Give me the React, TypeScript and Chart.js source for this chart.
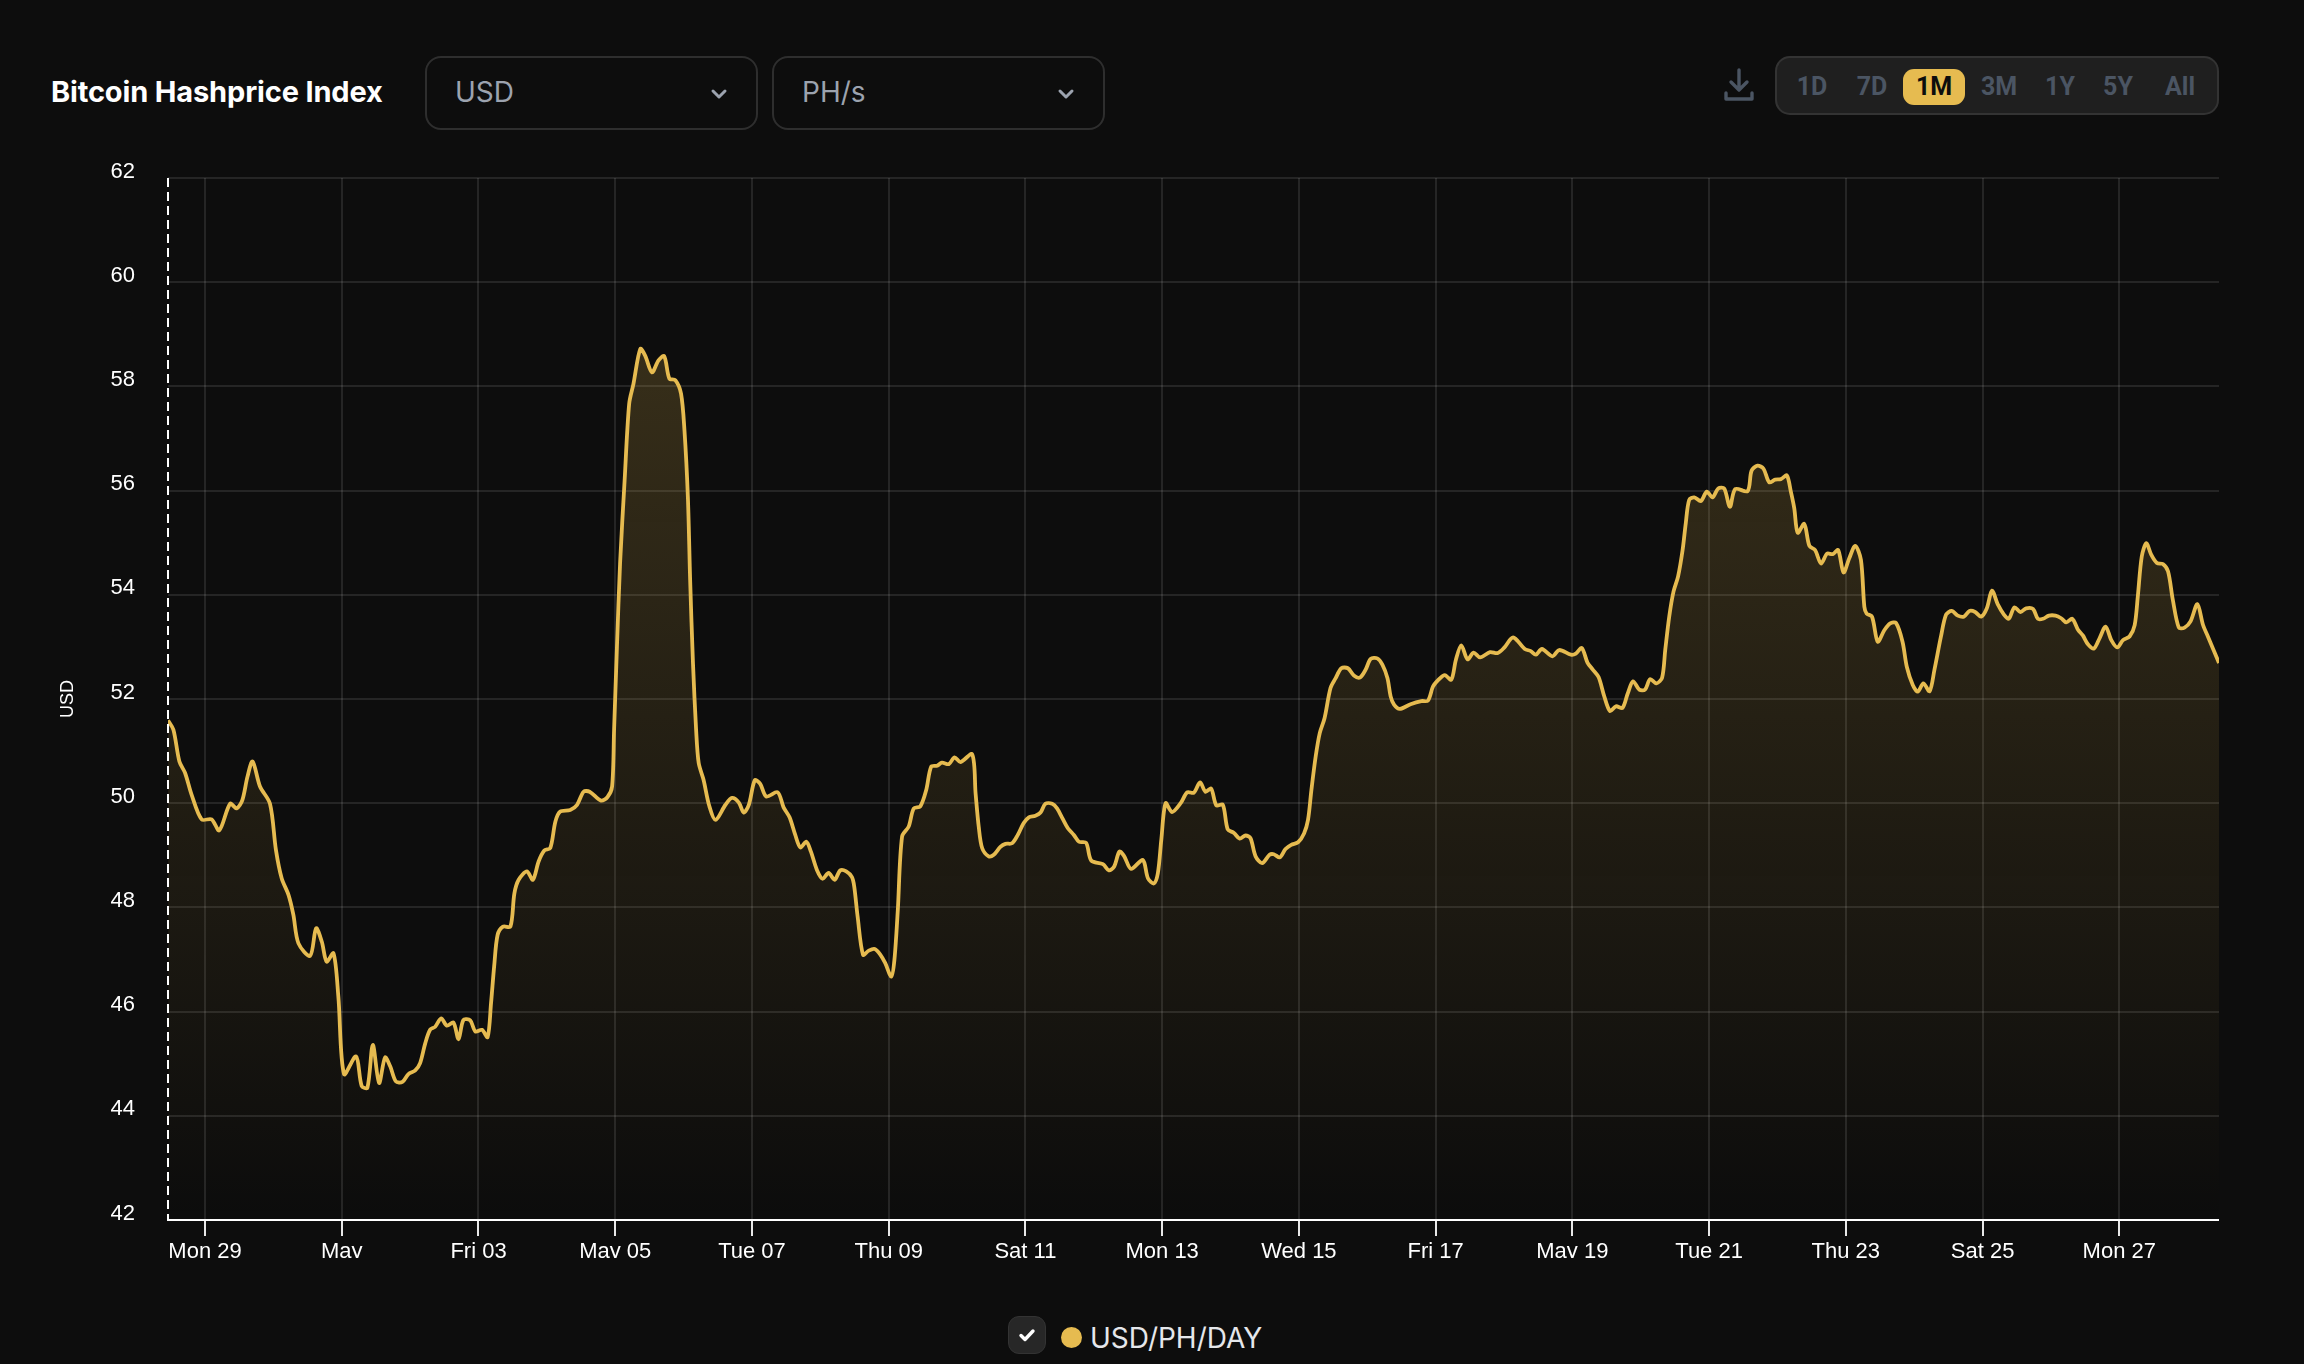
import { Chart, registerables, type ChartConfiguration } from "chart.js";
import { useEffect, useRef } from "react";

Chart.register(...registerables);

const GOLD = "#E6BB50";
const BG = "#0D0D0D";

const seriesName = "USD/PH/DAY";
const ranges = ["1D", "7D", "1M", "3M", "1Y", "5Y", "All"];
const activeRange = "1M";

// hours since the left edge of the window
const tickHours = [13, 61, 109, 157, 205, 253, 301, 349, 397, 445, 493, 541, 589, 637, 685];
const tickLabels = ["Mon 29", "May", "Fri 03", "May 05", "Tue 07", "Thu 09", "Sat 11", "Mon 13", "Wed 15", "Fri 17", "May 19", "Tue 21", "Thu 23", "Sat 25", "Mon 27"];

const hours = [
  0, 1.9, 4, 6, 8.3, 11.8, 15.3, 18, 21.8, 24.1,
  26.1, 27.9, 29.7, 32.3, 35.8, 37.9, 39.9, 42.3, 44, 45.8,
  49.9, 52, 54, 55.7, 58.1, 59.8, 61.8, 66, 68, 70,
  71.9, 74.1, 76.2, 78, 80, 82.3, 84.4, 86.8, 88.5, 90.3,
  92, 93.8, 95.9, 97.9, 100.2, 102, 103.7, 106.1, 107.9, 110.2,
  112.2, 113.4, 114.5, 115.7, 117.6, 120.2, 121.6, 123.1, 126, 128.1,
  130.1, 132.1, 134.2, 136, 137.7, 141.2, 143.6, 145.9, 148, 152,
  154.3, 155.9, 156.6, 157.6, 158.7, 160.3, 161.9, 163.4, 165.8, 167.5,
  169.9, 172.2, 174.2, 176, 178.1, 180.1, 181.3, 182.5, 183.3, 184.3,
  185.4, 186.3, 188, 190, 192.2, 195.7, 198, 200.4, 202.1, 203.9,
  206, 207.9, 210, 214, 216.1, 218.2, 220.2, 222, 224.1, 225.7,
  227.8, 229.8, 231.9, 234, 236, 238.1, 240.1, 240.9, 242.1, 244,
  246, 248.1, 250.1, 251.8, 253.9, 255, 256.2, 257.7, 260, 261.8,
  264.1, 266.2, 267.9, 270, 271.7, 274.1, 276.1, 278.2, 282.3, 283.5,
  284.6, 285.8, 288.1, 289.9, 292.2, 294, 296.3, 298.3, 300.4, 302.2,
  304.5, 306.3, 308, 310.4, 312.1, 313.9, 315.9, 318, 319.8, 322.3,
  324.1, 328.2, 330.3, 332.1, 334, 335.6, 338.1, 342.2, 344, 346.1,
  347.5, 348.7, 350.2, 352.5, 355.5, 357.8, 360.1, 362.3, 364.2, 366.2,
  368, 370.3, 372, 374.2, 376.2, 378.3, 380, 381.8, 384.1, 386.7,
  388.2, 390.3, 392.3, 394.3, 396.7, 398.8, 400.2, 401.4, 402.9, 404.3,
  406, 408.1, 409.9, 411.9, 414.2, 416.3, 418.4, 420.4, 422.2, 424.5,
  426.3, 428.1, 429.2, 430.4, 432.4, 436.2, 440, 442.3, 444.1, 446.2,
  448.2, 450.5, 452.1, 454, 456.2, 458.3, 460.6, 464.1, 466.7, 469,
  472.2, 476.3, 478.4, 480.2, 482.3, 486, 488.4, 492.5, 494.2, 496.3,
  498.3, 500.1, 502.2, 504.2, 506.2, 508.3, 510.6, 512.4, 514.3, 516.5,
  518.5, 520.3, 522.5, 524.5, 525.6, 527, 528.5, 530.1, 531.7, 532.8,
  534, 535.8, 538.1, 540.2, 542.2, 544.2, 546.3, 548.3, 550.2, 554.5,
  555.9, 558, 560.1, 562.1, 564.2, 566.2, 568.3, 569.7, 570.9, 572.1,
  574.4, 576.2, 578.2, 580.3, 582.4, 584.4, 586.3, 588.2, 590.2, 592.3,
  594.3, 595.5, 596.3, 598.2, 600.2, 602.5, 604.6, 606.6, 608.9, 610.4,
  612.5, 614.3, 616.2, 618.4, 620.1, 622.4, 624.2, 626.2, 628.3, 630.4,
  632.4, 634.4, 636.5, 638.5, 640.3, 642.4, 644.5, 646.2, 648.2, 650.3,
  652.3, 654.7, 656.4, 658.2, 660.3, 662.6, 664.6, 666.4, 668.5, 670.5,
  672.2, 674, 676.1, 678.1, 680.2, 682.2, 684.3, 686.3, 688.6, 690.4,
  691.5, 692.9, 694.5, 696.2, 698.2, 700.3, 702.1, 703.8, 705.9, 707.9,
  710, 712.4, 714.4, 716.1, 720,
];

const usdPerPhDay = [
  51.59, 51.41, 50.8, 50.58, 50.16, 49.69, 49.69, 49.48, 49.99, 49.9,
  50.06, 50.51, 50.8, 50.32, 49.99, 49.1, 48.56, 48.24, 47.86, 47.31,
  47.07, 47.6, 47.34, 46.96, 47.12, 46.29, 44.8, 45.14, 44.57, 44.54,
  45.36, 44.63, 45.12, 44.95, 44.66, 44.65, 44.8, 44.87, 45.01, 45.39,
  45.65, 45.71, 45.87, 45.73, 45.79, 45.47, 45.84, 45.83, 45.62, 45.65,
  45.51, 46.16, 46.87, 47.47, 47.63, 47.63, 48.27, 48.53, 48.69, 48.53,
  48.88, 49.09, 49.14, 49.65, 49.84, 49.87, 49.97, 50.22, 50.22, 50.05,
  50.12, 50.32, 51.41, 53, 54.6, 56.2, 57.67, 58.05, 58.72, 58.59,
  58.27, 58.5, 58.58, 58.15, 58.12, 57.86, 57.16, 55.88, 54.28, 52.68,
  51.4, 50.77, 50.45, 49.95, 49.68, 49.97, 50.1, 50.01, 49.82, 49.97,
  50.44, 50.37, 50.13, 50.21, 49.92, 49.73, 49.39, 49.15, 49.26, 49.07,
  48.72, 48.55, 48.66, 48.53, 48.71, 48.69, 48.58, 48.4, 47.82, 47.09,
  47.17, 47.2, 47.09, 46.93, 46.67, 46.99, 47.95, 49.36, 49.55, 49.9,
  49.94, 50.26, 50.7, 50.72, 50.78, 50.75, 50.88, 50.79, 50.94, 50.19,
  49.55, 49.14, 48.98, 49.01, 49.16, 49.22, 49.23, 49.39, 49.62, 49.73,
  49.76, 49.82, 49.99, 49.99, 49.9, 49.72, 49.52, 49.39, 49.26, 49.24,
  48.9, 48.83, 48.71, 48.78, 49.07, 48.99, 48.74, 48.91, 48.56, 48.46,
  48.66, 49.3, 50, 49.83, 50, 50.21, 50.2, 50.4, 50.22, 50.28,
  49.96, 49.97, 49.5, 49.43, 49.32, 49.38, 49.33, 48.98, 48.85, 49.01,
  49.02, 48.96, 49.12, 49.2, 49.25, 49.42, 49.68, 50.26, 50.9, 51.34,
  51.63, 52.21, 52.4, 52.59, 52.59, 52.45, 52.41, 52.56, 52.77, 52.78,
  52.66, 52.4, 52.05, 51.89, 51.81, 51.9, 51.96, 51.97, 52.24, 52.38,
  52.46, 52.37, 52.75, 53.03, 52.76, 52.89, 52.8, 52.9, 52.88, 52.98,
  53.18, 52.96, 52.92, 52.85, 52.96, 52.82, 52.94, 52.85, 52.87, 52.98,
  52.7, 52.57, 52.42, 52.05, 51.77, 51.86, 51.83, 52.1, 52.34, 52.18,
  52.18, 52.38, 52.3, 52.41, 52.94, 53.58, 54.06, 54.35, 54.86, 55.37,
  55.82, 55.87, 55.8, 55.98, 55.87, 56.04, 56.04, 55.69, 56.03, 55.99,
  56.38, 56.48, 56.42, 56.16, 56.21, 56.22, 56.29, 55.98, 55.66, 55.19,
  55.36, 54.94, 54.86, 54.6, 54.79, 54.78, 54.86, 54.43, 54.7, 54.94,
  54.67, 53.77, 53.64, 53.58, 53.1, 53.32, 53.45, 53.46, 53.1, 52.62,
  52.27, 52.14, 52.3, 52.15, 52.56, 53.2, 53.62, 53.69, 53.6, 53.58,
  53.69, 53.67, 53.58, 53.74, 54.08, 53.81, 53.62, 53.54, 53.76, 53.67,
  53.74, 53.73, 53.54, 53.54, 53.6, 53.6, 53.55, 53.47, 53.54, 53.33,
  53.22, 53.05, 52.97, 53.17, 53.39, 53.13, 52.99, 53.13, 53.2, 53.42,
  53.97, 54.74, 54.99, 54.77, 54.61, 54.59, 54.45, 53.9, 53.37, 53.37,
  53.49, 53.82, 53.42, 53.2, 52.69,
];

const GRID = "rgba(255,255,255,0.1)";

// dashed white rule down the left edge of the plot
const leftRule = {
  id: "leftRule",
  afterDatasetsDraw(chart: any) {
    const { ctx, chartArea } = chart;
    ctx.save();
    ctx.strokeStyle = "#ffffff";
    ctx.lineWidth = 2;
    ctx.setLineDash([9, 5]);
    ctx.beginPath();
    ctx.moveTo(chartArea.left, chartArea.top);
    ctx.lineTo(chartArea.left, chartArea.bottom);
    ctx.stroke();
    ctx.restore();
  },
};

const chartConfig: ChartConfiguration = {
  type: "line",
  plugins: [leftRule],
  data: {
    datasets: [
      {
        label: seriesName,
        data: hours.map((h, i) => ({ x: h, y: usdPerPhDay[i] })),
        borderColor: GOLD,
        borderWidth: 3.8,
        pointRadius: 0,
        tension: 0.3,
        fill: "start",
        backgroundColor: (ctx: any) => {
          const area = ctx.chart.chartArea;
          if (!area) return "transparent";
          const g = ctx.chart.ctx.createLinearGradient(0, area.top, 0, area.bottom);
          g.addColorStop(0, "rgba(232,188,80,0.23)");
          g.addColorStop(1, "rgba(232,188,80,0)");
          return g;
        },
      },
    ],
  },
  options: {
    responsive: false,
    animation: false,
    layout: { padding: { top: 28, right: 0, left: 0, bottom: 0 } },
    plugins: { legend: { display: false }, tooltip: { enabled: false } },
    scales: {
      x: {
        type: "linear",
        min: 0,
        max: 720,
        afterBuildTicks: (scale: any) => {
          scale.ticks = tickHours.map((value) => ({ value }));
        },
        afterFit: (scale: any) => {
          scale.height = 38;
        },
        border: { color: "#ffffff", width: 2 },
        grid: { color: GRID, lineWidth: 2, tickColor: "#e8e8e8", tickLength: 16, tickWidth: 2 },
        ticks: {
          color: "#ffffff",
          font: { family: "'Liberation Sans'", size: 22 },
          padding: 3,
          maxRotation: 0,
          autoSkip: false,
          callback: (_value: any, index: number) => tickLabels[index],
        },
      },
      y: {
        min: 42,
        max: 62,
        afterFit: (scale: any) => {
          scale.width = 168;
        },
        border: { display: false },
        grid: { color: GRID, lineWidth: 2, tickLength: 33, tickColor: "transparent" },
        title: {
          display: true,
          text: "USD",
          color: "#ffffff",
          font: { family: "'Liberation Sans'", size: 18 },
          padding: { top: 57, bottom: 0 },
        },
        ticks: {
          stepSize: 2,
          color: "#ffffff",
          font: { family: "'Liberation Sans'", size: 22, lineHeight: "13px" },
          padding: 0,
          // the empty second line lifts the label above its grid line
          callback: (value: any) => [String(value), ""],
        },
      },
    },
  },
};

/** Draw the hashprice line on a canvas. */
function HashpriceCanvas() {
  const canvasRef = useRef<HTMLCanvasElement>(null);

  useEffect(() => {
    if (!canvasRef.current) {
      return undefined;
    }
    const chart = new Chart(canvasRef.current, chartConfig);
    return () => chart.destroy();
  }, []);

  return (
    <canvas
      ref={canvasRef}
      width={2219}
      height={1108}
      style={{ position: "absolute", left: 0, top: 150, width: 2219, height: 1108 }}
    />
  );
}

function Chevron() {
  return (
    <svg width="18" height="12" viewBox="0 0 18 12" style={{ position: "absolute", right: 28, top: 30 }}>
      <path d="M3 3 L9 9 L15 3" fill="none" stroke="#9CA3AF" strokeWidth="3" strokeLinecap="round" strokeLinejoin="round" />
    </svg>
  );
}

function SelectBox({ left, text }: { left: number; text: string }) {
  return (
    <div
      style={{
        position: "absolute",
        left,
        top: 56,
        width: 333,
        height: 74,
        boxSizing: "border-box",
        border: "2px solid #2E2E2E",
        borderRadius: 16,
        color: "#9CA3AF",
        font: "400 28px Inter",
        lineHeight: "68px",
        paddingLeft: 28,
      }}
    >
      {text}
      <Chevron />
    </div>
  );
}

export default function App() {
  return (
    <div style={{ position: "fixed", left: 0, top: 0, width: 2304, height: 1364, background: BG, overflow: "hidden" }}>
      <div
        style={{
          position: "absolute",
          left: 51,
          top: 72,
          color: "#FFFFFF",
          font: "700 29px Inter",
          lineHeight: "40px",
          letterSpacing: "-0.15px",
          whiteSpace: "nowrap",
        }}
      >
        Bitcoin Hashprice Index
      </div>
      <SelectBox left={425} text="USD" />
      <SelectBox left={772} text="PH/s" />

      <svg width="30" height="33" viewBox="0 0 30 33" style={{ position: "absolute", left: 1724, top: 68 }}>
        <path
          d="M15 2 V20 M7 14 L15 22 L23 14 M2 25 V31 H28 V25"
          fill="none"
          stroke="#4B5563"
          strokeWidth="3.4"
          strokeLinecap="round"
          strokeLinejoin="round"
        />
      </svg>

      <div
        style={{
          position: "absolute",
          left: 1775,
          top: 56,
          width: 444,
          height: 59,
          boxSizing: "border-box",
          background: "#1F1F1F",
          border: "2px solid #333333",
          borderRadius: 15,
        }}
      />
      {ranges.map((r, i) => {
        const centers = [1812, 1872, 1934, 1999, 2060, 2118, 2180];
        const active = r === activeRange;
        return (
          <div
            key={r}
            style={{
              position: "absolute",
              left: centers[i] - 31,
              top: 69,
              width: 62,
              height: 36,
              textAlign: "center",
              borderRadius: 11,
              background: active ? GOLD : "transparent",
              color: active ? BG : "#4B5563",
              font: "700 25px Roboto",
              lineHeight: "36px",
            }}
          >
            {r}
          </div>
        );
      })}

      <HashpriceCanvas />

      <div
        style={{
          position: "absolute",
          left: 1008,
          top: 1316,
          width: 38,
          height: 38,
          boxSizing: "border-box",
          background: "#272727",
          border: "1px solid #333333",
          borderRadius: 11,
        }}
      >
        <svg width="36" height="36" viewBox="0 0 36 36">
          <path d="M12 18.5 L16 22.5 L24 14" fill="none" stroke="#FFFFFF" strokeWidth="3.4" strokeLinecap="round" strokeLinejoin="round" />
        </svg>
      </div>
      <div
        style={{
          position: "absolute",
          left: 1061,
          top: 1327,
          width: 21,
          height: 21,
          borderRadius: "50%",
          background: GOLD,
        }}
      />
      <div
        style={{
          position: "absolute",
          left: 1090,
          top: 1318,
          color: "#E5E7EB",
          font: "400 28px Inter",
          lineHeight: "40px",
          whiteSpace: "nowrap",
        }}
      >
        {seriesName}
      </div>
    </div>
  );
}
